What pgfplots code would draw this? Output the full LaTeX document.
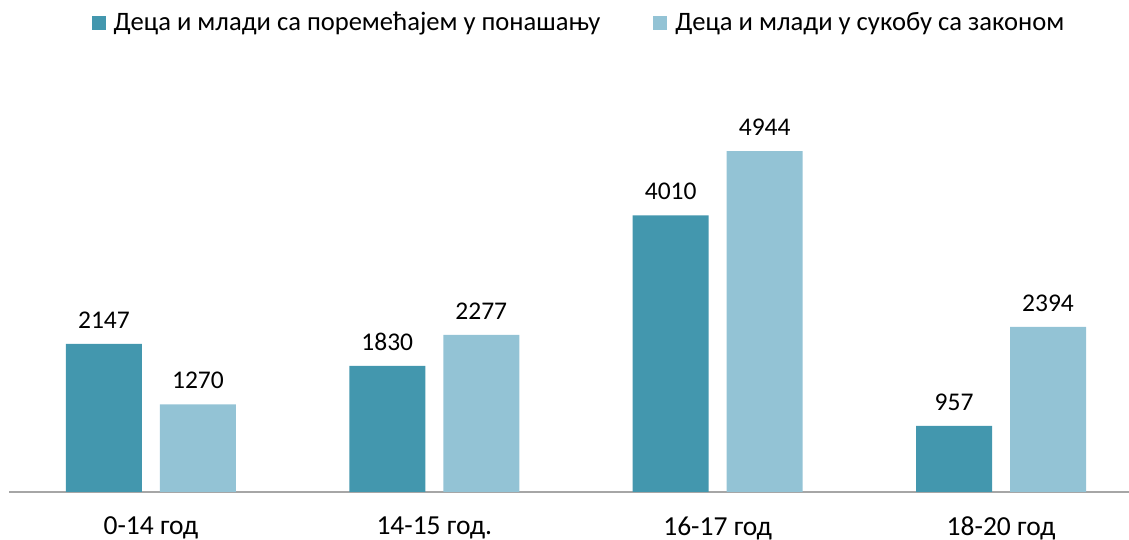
\documentclass[border=0pt]{standalone}
\usepackage{fontspec}
\setmainfont{Carlito}
\usepackage{pgfplots}
\pgfplotsset{compat=1.18}
\definecolor{dark}{HTML}{4397AE}
\definecolor{light}{HTML}{93C3D5}
\definecolor{axgray}{HTML}{A6A6A6}
\newcommand{\bigf}{\fontsize{25.5}{30}\selectfont}
\newcommand{\tickf}{\fontsize{27.5}{32}\selectfont}
\newcommand{\legf}{\fontsize{26.6}{31}\selectfont}
\begin{document}
\begin{tikzpicture}
\useasboundingbox (0,0) rectangle (1129pt,540pt);
\begin{axis}[
 at={(9.25pt,48pt)}, anchor=south west,
 scale only axis, width=1119.75pt, height=413.8pt,
 xmin=-0.5, xmax=3.4515, ymin=0, ymax=6000,
 axis x line*=bottom, axis y line=none,
 x axis line style={axgray, line width=1.5pt, -},
 xtick={0,1,2,3}, xticklabels={0-14 год,14-15 год.,16-17 год,18-20 год},
 major tick length=0pt,
 xticklabel style={font=\tickf, anchor=center, yshift=-36pt},
 clip=false,
 legend columns=2,
 legend style={draw=none, fill=none, at={(0.5088,1.136)}, anchor=center, font=\legf,
   /tikz/every even column/.append style={column sep=51pt}},
 legend cell align=left,
]
\addplot[ybar, fill=dark, draw=none, bar width=76pt, bar shift=-47pt,
  legend image code/.code={\fill[dark] (0pt,-8pt) rectangle (14pt,6pt); \path (20pt,0pt);},
  nodes near coords, nodes near coords style={font=\bigf, anchor=center, xshift=-47pt, yshift=24pt, text=black, /pgf/number format/assume math mode=true, /pgf/number format/1000 sep={}}]
  coordinates {(0,2147) (1,1830) (2,4010) (3,957)};
\addlegendentry{Деца и млади са поремећајем у понашању}
\addplot[ybar, fill=light, draw=none, bar width=76pt, bar shift=47pt,
  legend image code/.code={\fill[light] (0pt,-8pt) rectangle (14pt,6pt); \path (20pt,0pt);},
  nodes near coords, nodes near coords style={font=\bigf, anchor=center, xshift=47pt, yshift=24pt, text=black, /pgf/number format/assume math mode=true, /pgf/number format/1000 sep={}}]
  coordinates {(0,1270) (1,2277) (2,4944) (3,2394)};
\addlegendentry{Деца и млади у сукобу са законом}
\end{axis}
\end{tikzpicture}
\end{document}
